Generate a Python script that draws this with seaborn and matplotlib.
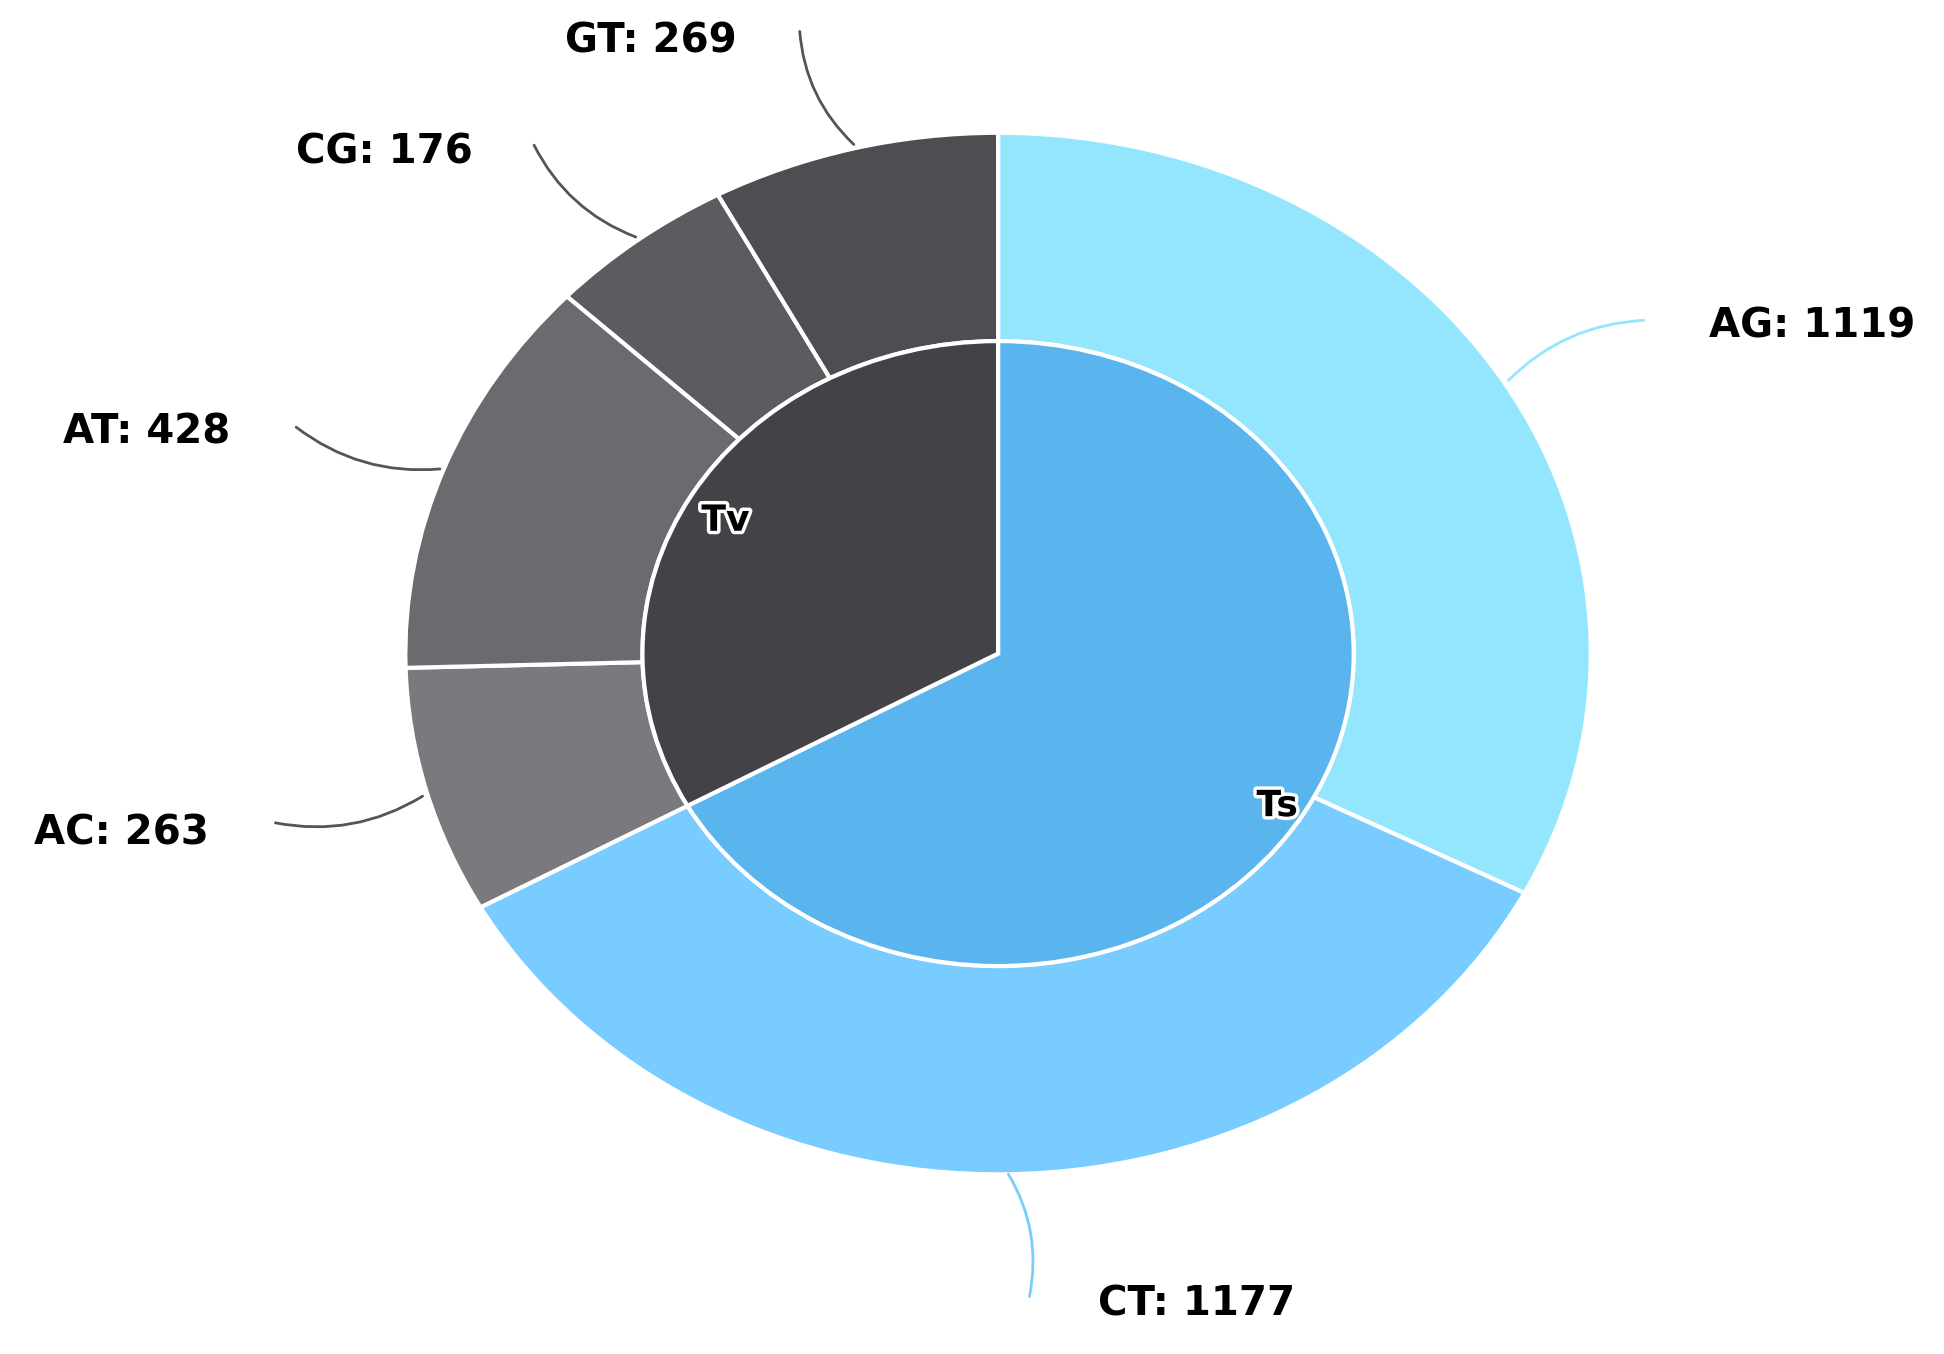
import matplotlib
matplotlib.use("Agg")
import matplotlib.pyplot as plt
import seaborn as sns
import matplotlib.patheffects as pe

sns.set_theme(style="white")
plt.rcParams['font.family'] = ['DejaVu Sans']

outer_labels = ["AG", "CT", "AC", "AT", "CG", "GT"]
outer_values = [1119, 1177, 263, 428, 176, 269]
outer_colors = ["#94E6FF", "#79CCFF", "#7A797E", "#6B6A6F", "#5C5B60", "#4E4D52"]
inner_labels = ["Ts", "Tv"]
inner_values = [1119 + 1177, 263 + 428 + 176 + 269]
inner_colors = ["#5AB4EE", "#434247"]

fig = plt.figure(figsize=(19.44, 13.54), dpi=100)
ax = fig.add_axes([0, 0, 1, 1])
ax.pie(outer_values, radius=1, colors=outer_colors, startangle=90, counterclock=False,
       wedgeprops=dict(width=0.4, edgecolor="white", linewidth=3))
ax.pie(inner_values, radius=0.6, colors=inner_colors, startangle=90, counterclock=False,
       wedgeprops=dict(edgecolor="white", linewidth=3))
ax.set_aspect("auto")
ax.set_xlim(-1.684, 1.596)
ax.set_ylim(-1.345, 1.255)

# label positions: (text xy, anchor on wedge, end of leader, color)
label_pos = {
    "GT": ((-0.586, 1.176), (-0.24, 0.974), (-0.335, 1.2), "#555555"),
    "CG": ((-1.036, 0.962), (-0.607, 0.798), (-0.785, 0.981), "#555555"),
    "AT": ((-1.437, 0.424), (-0.937, 0.355), (-1.188, 0.438), "#555555"),
    "AC": ((-1.479, -0.345), (-0.967, -0.271), (-1.224, -0.324), "#555555"),
    "AG": ((1.374, 0.629), (0.858, 0.521), (1.094, 0.640), "#94E6FF"),
    "CT": ((0.335, -1.25), (0.015, -0.995), (0.052, -1.24), "#79CCFF"),
}
for lab, val in zip(outer_labels, outer_values):
    txy, a, b, c = label_pos[lab]
    ax.annotate("", xy=a, xytext=b,
                arrowprops=dict(arrowstyle="-", color=c, lw=2,
                                connectionstyle="arc3,rad=0.2"))
    ax.text(txy[0], txy[1], f"{lab}: {val}", fontsize=29, fontweight="bold",
            ha="center", va="center", color="black")

inner_pos = {"Ts": (0.471, -0.293), "Tv": (-0.46, 0.255)}
for lab in inner_labels:
    x, y = inner_pos[lab]
    ax.text(x, y, lab, fontsize=26, fontweight="bold", ha="center", va="center",
            color="black", path_effects=[pe.withStroke(linewidth=5, foreground="white")])

fig.savefig("out.png", dpi=100)
